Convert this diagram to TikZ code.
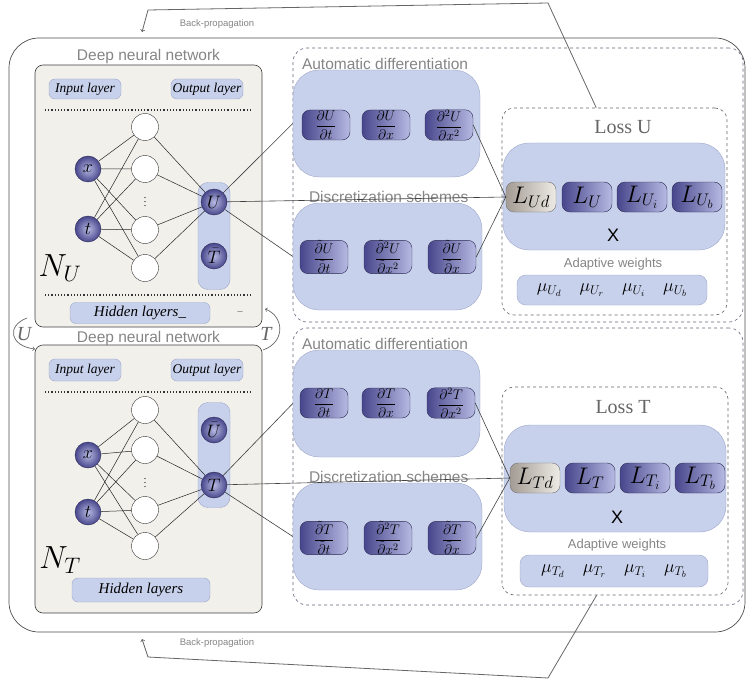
\documentclass[tikz,border=0pt]{standalone}
\usepackage{fix-cm}
\usepackage{fontspec}
\setmainfont{Liberation Serif}
\setsansfont{Liberation Sans}
\usetikzlibrary{positioning}

\definecolor{netgray}{HTML}{F2F0EB}
\definecolor{lblue}{HTML}{C8D1EB}
\definecolor{lbluedraw}{HTML}{9CA6C9}
\definecolor{dblue}{HTML}{48468C}
\definecolor{mblue}{HTML}{B6BAE2}
\definecolor{capgray}{HTML}{858585}
\definecolor{lgrayL}{HTML}{A39C94}
\definecolor{lgrayR}{HTML}{EEEAE5}
\definecolor{dashgray}{HTML}{66637E}

\begin{document}
\begin{tikzpicture}[x=1pt,y=-1pt,
outerframe/.style={draw=black!70,rounded corners=30pt,line width=.7pt},
panel/.style={draw=dashgray,dashed,rounded corners=14pt,line width=.6pt},
lossbox/.style={draw=black!60,dashed,rounded corners=12pt,line width=.6pt},
netbox/.style={draw=black!75,fill=netgray,rounded corners=8pt,line width=.6pt},
layerbox/.style={draw=lbluedraw,fill=lblue,rounded corners=6pt,inner sep=0pt,font=\fontsize{13.5}{14}\selectfont\itshape},
outcol/.style={draw=lbluedraw,fill=lblue,rounded corners=10pt},
bigbox/.style={draw=lbluedraw,fill=lblue,rounded corners=26pt},
neuron/.style={circle,draw=black!80,fill=white,minimum size=27pt,inner sep=0pt},
iounit/.style={circle,draw=dblue!60!black,inner color=mblue,outer color=dblue,minimum size=26pt,inner sep=0pt,font=\fontsize{18}{18}\selectfont},
deriv/.style={draw=dblue!60!black,left color=dblue,right color=mblue,rounded corners=8pt,minimum width=48pt,minimum height=30pt,inner sep=0pt,font=\fontsize{14}{14}\selectfont},
lterm/.style={deriv,minimum width=50pt,font=\fontsize{24}{24}\selectfont},
ldata/.style={lterm,draw=black!55,left color=lgrayL,right color=lgrayR},
grytxt/.style={text=capgray,font=\sffamily\fontsize{15.5}{16}\selectfont,inner sep=1pt},
losstxt/.style={text=black!60,font=\fontsize{20}{22}\selectfont,inner sep=1pt},
smalltxt/.style={text=capgray,font=\sffamily\fontsize{13}{14}\selectfont,inner sep=1pt},
bptxt/.style={text=capgray,font=\sffamily\fontsize{9.5}{10}\selectfont,inner sep=1pt},
wire/.style={draw=black!85,line width=.5pt},
link/.style={draw=black!75,line width=.6pt},
bpline/.style={draw=black!60,line width=.8pt},
sepline/.style={draw=black!80,dotted,line width=1.2pt}]
\useasboundingbox (0,0) rectangle (747,682);

% frame and panels
\node[outerframe,minimum width=736pt,minimum height=594pt] (frame) at (377,335) {};
\node[panel,minimum width=450pt,minimum height=274pt] (panelU) at (518,185) {};
\node[panel,minimum width=450pt,minimum height=277pt] (panelT) at (518,466.5) {};

% network N_U
\node[netbox,minimum width=227pt,minimum height=262pt] (nnU) at (148.5,196) {};
\node[grytxt,above=0pt of nnU] {Deep neural network};
\node[layerbox,minimum width=72pt,minimum height=20pt] (inU) at (85,89) {Input layer};
\node[layerbox,minimum width=72pt,minimum height=20pt] (outU) at (207,89) {Output layer};
\draw[sepline] (45,110) -- (252,110);
\draw[sepline] (45,295) -- (252,295);
\node[layerbox,minimum width=140pt,minimum height=21pt,font=\fontsize{15}{15}\selectfont\itshape] (hidU) at (140,313) {Hidden layers\_};
\node[text=black!70] at (240,313) {--};
\node[font=\fontsize{32}{32}\selectfont] (nameU) at (60,268) {$N_U$};
\node[outcol,minimum width=32pt,minimum height=107pt] (colU) at (214,236) {};
\node[iounit] (xU) at (88,169) {$x$};
\node[iounit] (tU) at (88,229) {$t$};
\node[neuron] (hU1) at (145,127) {};
\node[neuron] (hU2) at (145,169) {};
\node[neuron] (hU3) at (145,230) {};
\node[neuron] (hU4) at (145,268) {};
\path (hU2) -- node{$\vdots$} (hU3);
\node[iounit] (oU) at (214,202) {$U$};
\node[iounit] (obU) at (214,256) {$\bar{T}$};
\draw[wire] (xU) -- (hU1) (xU) -- (hU2) (xU) -- (hU3) (xU) -- (hU4)
  (tU) -- (hU1) (tU) -- (hU2) (tU) -- (hU3) (tU) -- (hU4)
  (hU1) -- (oU) (hU2) -- (oU) (hU3) -- (oU) (hU4) -- (oU);

% network N_T
\node[netbox,minimum width=227pt,minimum height=268pt] (nnT) at (148.5,479) {};
\node[grytxt,above=-2pt of nnT] {Deep neural network};
\node[layerbox,minimum width=72pt,minimum height=22pt] (inT) at (85,370) {Input layer};
\node[layerbox,minimum width=72pt,minimum height=22pt] (outT) at (207,370) {Output layer};
\draw[sepline] (45,392) -- (252,392);
\node[layerbox,minimum width=138pt,minimum height=24pt,font=\fontsize{15}{15}\selectfont\itshape] (hidT) at (141,590) {Hidden layers};
\node[font=\fontsize{32}{32}\selectfont] (nameT) at (60,560) {$N_T$};
\node[outcol,minimum width=32pt,minimum height=105pt] (colT) at (214,455) {};
\node[iounit] (xT) at (88,455) {$x$};
\node[iounit] (tT) at (88,512) {$t$};
\node[neuron] (hT1) at (145,410) {};
\node[neuron] (hT2) at (145,450) {};
\node[neuron] (hT3) at (145,510) {};
\node[neuron] (hT4) at (145,546) {};
\path (hT2) -- node{$\vdots$} (hT3);
\node[iounit] (obT) at (214,430) {$\bar{U}$};
\node[iounit] (oT) at (214,485) {$T$};
\draw[wire] (xT) -- (hT1) (xT) -- (hT2) (xT) -- (hT3) (xT) -- (hT4)
  (tT) -- (hT1) (tT) -- (hT2) (tT) -- (hT3) (tT) -- (hT4)
  (hT1) -- (oT) (hT2) -- (oT) (hT3) -- (oT) (hT4) -- (oT);

% exchange of U and T
\coordinate (uarc1) at (27,318);
\coordinate (uarc2) at (35,349);
\coordinate (tarc1) at (263,350);
\coordinate (tarc2) at (265,309);
\draw[draw=black!60,line width=.7pt,->] (uarc1) .. controls (6,326) and (10,346) .. (uarc2);
\draw[draw=black!60,line width=.7pt,->] (tarc1) .. controls (286,342) and (284,316) .. (tarc2);
\node[text=black!60,font=\fontsize{20}{20}\selectfont\itshape] (uswap) at (24,334) {U};
\node[text=black!60,font=\fontsize{20}{20}\selectfont\itshape] (tswap) at (266,334) {T};

% derivatives for U
\node[bigbox,minimum width=187pt,minimum height=107pt] (adU) at (386.5,123.5) {};
\node[grytxt,anchor=south west] at ([xshift=8pt,yshift=-1pt]adU.north west) {Automatic differentiation};
\node[deriv] (adU1) at (326,125) {$\displaystyle\frac{\partial U}{\partial t}$};
\node[deriv] (adU2) at (386,125) {$\displaystyle\frac{\partial U}{\partial x}$};
\node[deriv] (adU3) at (449,125) {$\displaystyle\frac{\partial^2 U}{\partial x^2}$};
\node[bigbox,minimum width=189pt,minimum height=107pt] (dsU) at (387.5,256.5) {};
\node[grytxt,anchor=south west] at ([xshift=15pt,yshift=-1pt]dsU.north west) {Discretization schemes};
\node[deriv] (dsU1) at (324,257) {$\displaystyle\frac{\tilde\partial U}{\tilde\partial t}$};
\node[deriv] (dsU2) at (388,257) {$\displaystyle\frac{\tilde\partial^2 U}{\tilde\partial x^2}$};
\node[deriv] (dsU3) at (452,257) {$\displaystyle\frac{\tilde\partial U}{\tilde\partial x}$};

% loss U
\node[lossbox,minimum width=225pt,minimum height=207pt] (lossU) at (614.5,211.5) {};
\node[losstxt] at (623,127) {Loss U};
\node[bigbox,minimum width=222pt,minimum height=107pt] (lsumU) at (614,196.5) {};
\node[ldata] (lUd) at (531,197) {$L_{Ud}$};
\node[lterm] (lUr) at (587,197) {$L_U$};
\node[lterm] (lUi) at (642,197) {$L_{U_i}$};
\node[lterm] (lUb) at (697,197) {$L_{U_b}$};
\node[font=\sffamily\fontsize{18}{18}\selectfont] (timesU) at (613,235) {X};
\node[smalltxt] at (613,264) {Adaptive weights};
\node[bigbox,rounded corners=9pt,minimum width=190pt,minimum height=30pt,font=\fontsize{18}{18}\selectfont] (muU) at (612,290) {$\mu_{U_d}\quad\mu_{U_r}\quad\mu_{U_i}\quad\mu_{U_b}$};

% derivatives for T
\node[bigbox,minimum width=187pt,minimum height=107pt] (adT) at (386.5,403.5) {};
\node[grytxt,anchor=south west] at ([xshift=8pt,yshift=-1pt]adT.north west) {Automatic differentiation};
\node[deriv] (adT1) at (324,403) {$\displaystyle\frac{\partial T}{\partial t}$};
\node[deriv] (adT2) at (386,403) {$\displaystyle\frac{\partial T}{\partial x}$};
\node[deriv] (adT3) at (451,403) {$\displaystyle\frac{\partial^2 T}{\partial x^2}$};
\node[bigbox,minimum width=189pt,minimum height=107pt] (dsT) at (387.5,536.5) {};
\node[grytxt,anchor=south west] at ([xshift=15pt,yshift=-1pt]dsT.north west) {Discretization schemes};
\node[deriv] (dsT1) at (324,538) {$\displaystyle\frac{\tilde\partial T}{\tilde\partial t}$};
\node[deriv] (dsT2) at (388,538) {$\displaystyle\frac{\tilde\partial^2 T}{\tilde\partial x^2}$};
\node[deriv] (dsT3) at (452,538) {$\displaystyle\frac{\tilde\partial T}{\tilde\partial x}$};

% loss T
\node[lossbox,minimum width=226pt,minimum height=208pt] (lossT) at (615,491) {};
\node[losstxt] at (623,407) {Loss T};
\node[bigbox,minimum width=222pt,minimum height=107pt] (lsumT) at (615,478.5) {};
\node[ldata] (lTd) at (535,478) {$L_{Td}$};
\node[lterm] (lTr) at (590,478) {$L_T$};
\node[lterm] (lTi) at (645,478) {$L_{T_i}$};
\node[lterm] (lTb) at (700,478) {$L_{T_b}$};
\node[font=\sffamily\fontsize{18}{18}\selectfont] (timesT) at (617,517) {X};
\node[smalltxt] at (617,545) {Adaptive weights};
\node[bigbox,rounded corners=9pt,minimum width=188pt,minimum height=32pt,font=\fontsize{18}{18}\selectfont] (muT) at (614,571) {$\mu_{T_d}\quad\mu_{T_r}\quad\mu_{T_i}\quad\mu_{T_b}$};

% links
\draw[link] (oU) -- (adU.west) (oU) -- (dsU.west) (oU) -- (lUd.west)
  (adU3.east) -- (lUd.west) (dsU3.east) -- (lUd.west);
\draw[link] (oT) -- (adT.west) (oT) -- (dsT.west) (oT) -- (lTd.west)
  (adT3.east) -- (lTd.west) (dsT3.east) -- (lTd.west);

% back-propagation
\coordinate (bpU1) at (548,3);
\coordinate (bpU2) at (148,10);
\coordinate (bpU3) at (142,32);
\draw[bpline,->] (lossU.100) -- (bpU1) -- (bpU2) -- (bpU3);
\node[bptxt] (bpUtxt) at (217,24) {Back-propagation};
\coordinate (bpT1) at (548,678);
\coordinate (bpT2) at (148,657);
\coordinate (bpT3) at (142,639);
\draw[bpline,->] (lossT.260) -- (bpT1) -- (bpT2) -- (bpT3);
\node[bptxt] (bpTtxt) at (217,643) {Back-propagation};
\end{tikzpicture}
\end{document}
